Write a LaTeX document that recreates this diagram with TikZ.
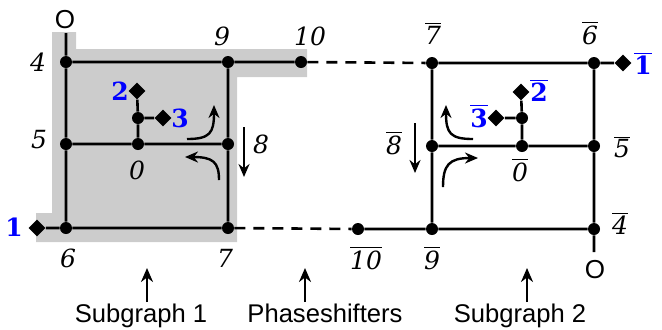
\documentclass[tikz,border=0pt]{standalone}
\usepackage{fontspec}
\setmainfont{DejaVu Serif}
\newfontfamily\capfont{Liberation Sans}
\usepackage{tikz}
\usetikzlibrary{arrows.meta}
\usetikzlibrary{shapes.geometric}

\tikzset{
  vtx/.style={circle,fill=black,inner sep=0pt,minimum size=6pt},
  port/.style={diamond,fill=black,inner sep=0pt,minimum size=8.5pt},
  num/.style={inner sep=0pt,font=\fontsize{12.5}{14}\selectfont\itshape},
  pnum/.style={inner sep=0pt,text=blue,font=\fontsize{12.5}{14}\selectfont\bfseries},
  caption/.style={inner sep=0pt,anchor=base,font=\fontsize{12.8}{14}\selectfont\capfont},
  outlet/.style={inner sep=0pt,font=\fontsize{13}{14}\selectfont\capfont},
  edge/.style={line width=1.3pt},
  phase/.style={line width=1.3pt,dash pattern=on 5.5pt off 4pt},
  flow/.style={line width=1.2pt,-{Stealth[length=6.5pt,width=5.5pt]}},
  pointer/.style={line width=1.4pt,-{Stealth[length=7pt,width=6pt]}},
}
\newcommand{\bnum}[1]{$\overline{\mbox{#1}}$}

\begin{document}
\begin{tikzpicture}[x=0.5pt,y=-0.5pt]
\useasboundingbox (0,0) rectangle (662,329);

% shaded block of subgraph 1
\fill[black!20]
(52,32) -- (76,32) -- (76,49) -- (307,49) -- (307,77) -- (237,77)
-- (237,242) -- (36,242) -- (36,213) -- (52,213) -- cycle;

% subgraph 1
\node[vtx] (v4) at (66,62) {};
\node[vtx] (v9) at (228,62) {};
\node[vtx] (v10) at (301,62) {};
\node[vtx] (v5) at (66,144) {};
\node[vtx] (v0) at (138,144) {};
\node[vtx] (v8) at (228,144) {};
\node[vtx] (v6) at (66,228) {};
\node[vtx] (v7) at (228,228) {};
\node[vtx] (v0a) at (138,118) {};
\node[port] (p1) at (37,228) {};
\node[port] (p2) at (137,91) {};
\node[port] (p3) at (163,118) {};
\coordinate (o1) at (66,33);

\draw[edge]
(o1) -- (v4) -- (v9) -- (v10)
(v4) -- (v5) -- (v6) -- (v7)
(v5) -- (v0) -- (v8)
(v9) -- (v8) -- (v7)
(p1) -- (v6)
(v0) -- (v0a) -- (p2)
(v0a) -- (p3);

% subgraph 2
\node[vtx] (w7) at (432,63) {};
\node[vtx] (w6) at (594,63) {};
\node[vtx] (w8) at (432,146) {};
\node[vtx] (w0) at (522,146) {};
\node[vtx] (w5) at (594,146) {};
\node[vtx] (w9) at (432,229) {};
\node[vtx] (w4) at (594,229) {};
\node[vtx] (w10) at (358,229) {};
\node[vtx] (w0a) at (522,118) {};
\node[port] (q1) at (623,63) {};
\node[port] (q2) at (521,92) {};
\node[port] (q3) at (496,118) {};
\coordinate (o2) at (594,252);

\draw[edge]
(q1) -- (w6) -- (w7) -- (w8) -- (w9) -- (w10)
(w6) -- (w5) -- (w4) -- (o2)
(w9) -- (w4)
(w8) -- (w0) -- (w5)
(w0) -- (w0a) -- (q2)
(w0a) -- (q3);

% phaseshifters
\draw[phase] (v10) -- (w7);
\draw[phase] (v7) -- (w10);

% labels
\node[num] (l4) at (38,62) {4};
\node[num] (l5) at (39,140) {5};
\node[num] (l6) at (68,258) {6};
\node[num] (l7) at (225,258) {7};
\node[num] (l9) at (222,36) {9};
\node[num] (l10) at (310,36) {10};
\node[num] (l0) at (137,170) {0};
\node[num] (l8) at (261,144) {8};
\node[pnum] (lp1) at (14,227) {1};
\node[pnum] (lp2) at (120,91) {2};
\node[pnum] (lp3) at (180,118) {3};
\node[outlet] (lo1) at (65,20) {O};

\node[num] (m7) at (433,33) {\bnum{7}};
\node[num] (m6) at (590,33) {\bnum{6}};
\node[num] (m8) at (394,143) {\bnum{8}};
\node[num] (m5) at (622,147) {\bnum{5}};
\node[num] (m0) at (520,170) {\bnum{0}};
\node[num] (m4) at (620,223) {\bnum{4}};
\node[num] (m10) at (366,258) {\bnum{10}};
\node[num] (m9) at (432,258) {\bnum{9}};
\node[pnum] (mp1) at (643,63) {\bnum{1}};
\node[pnum] (mp2) at (539,90) {\bnum{2}};
\node[pnum] (mp3) at (479,116) {\bnum{3}};
\node[outlet] (lo2) at (595,270) {O};

% flow arrows
\draw[flow] (187,139) .. controls (210,139) and (214,133) .. (214,105);
\draw[flow] (219,180) .. controls (219,162) and (213,157) .. (185,157);
\draw[flow] (244,127) -- (244,177);
\draw[flow] (473,139) .. controls (450,139) and (446,133) .. (446,105);
\draw[flow] (443,187) .. controls (443,165) and (449,158) .. (478,158);
\draw[flow] (415,123) -- (415,173);

% captions
\node[caption] (c1) at (141,322) {Subgraph 1};
\node[caption] (c2) at (325,322) {Phaseshifters};
\node[caption] (c3) at (520,322) {Subgraph 2};
\coordinate (a1) at (147,268);
\coordinate (a2) at (305,268);
\coordinate (a3) at (527,268);
\draw[pointer] (147,302) -- (a1);
\draw[pointer] (305,302) -- (a2);
\draw[pointer] (527,302) -- (a3);
\end{tikzpicture}
\end{document}
